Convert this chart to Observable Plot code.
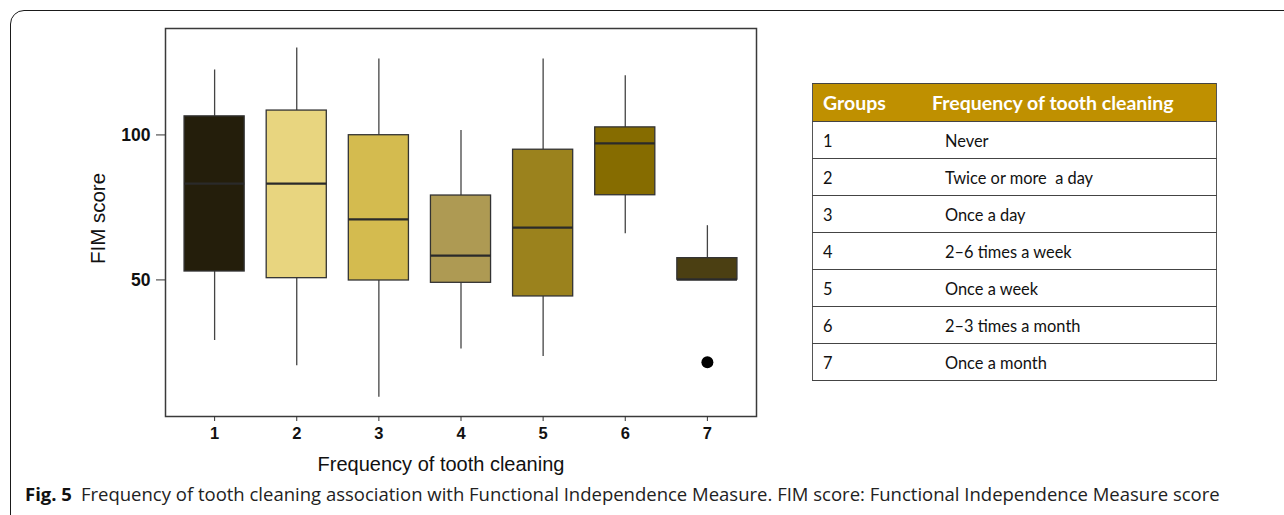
<!DOCTYPE html>
<html>
<head>
<meta charset="utf-8">
<script src="https://cdn.jsdelivr.net/npm/d3@7"></script>
<script src="https://cdn.jsdelivr.net/npm/@observablehq/plot@0.6"></script>
<style>
  html, body { margin: 0; padding: 0; background: #fff; }
  body { width: 1284px; height: 515px; overflow: hidden; position: relative; }
  #border { position: absolute; left: 10px; top: 10px; width: 1320px; height: 520px;
            border: 1.5px solid #1a1a1a; border-radius: 14px; box-sizing: border-box; }
  #chart { position: absolute; left: 0; top: 0; }
  #legend { position: absolute; left: 812px; top: 83px; width: 405px; border-collapse: collapse;
            font-family: Lato, "Open Sans", sans-serif; color: #111; }
  #legend th { background: #bf9000; color: #fff; font-weight: bold; font-size: 19.5px; text-align: left;
               height: 37px; padding: 0; border-top: 1.5px solid #444; border-bottom: 1.5px solid #444; }
  #legend td { height: 36px; padding: 0; font-size: 16.4px; border-bottom: 1.5px solid #444; white-space: pre; }
  #legend th:first-child, #legend td:first-child { padding-left: 10px; width: 109px; border-left: 1.5px solid #555; }
  #legend th:last-child, #legend td:last-child { border-right: 1.5px solid #555; }
  #legend td:last-child { padding-left: 13px; }
  #caption { position: absolute; left: 25px; top: 481px; font-family: "Open Sans", sans-serif;
             font-size: 18.5px; color: #222; white-space: nowrap; }
  #caption b { font-weight: bold; color: #111; margin-right: 9px; }
</style>
</head>
<body>
<div id="border"></div>
<div id="chart"></div>
<table id="legend"></table>
<div id="caption"></div>
<script>
// ---- data ----
const groups = ["1", "2", "3", "4", "5", "6", "7"];
const whiskerLow  = [29.1, 20.4,  9.5, 26.2, 23.6, 65.9, 50.1];
const quartile1   = [52.9, 50.6, 49.8, 49.0, 44.3, 79.2, 50.1];
const medians     = [83.2, 83.2, 70.9, 58.4, 68.0, 97.1, 50.1];
const quartile3   = [106.4, 108.4, 99.9, 79.1, 94.9, 102.6, 57.5];
const whiskerHigh = [122.4, 130.0, 126.2, 101.5, 126.2, 120.4, 68.7];
const outlierGroups = ["7"];
const outlierValues = [21.6];
const boxColors = ["#241e0b", "#e8d57f", "#d4bb4f", "#ae9a53", "#9b821d", "#866c00", "#4b3f12"];
const yTicks = [50, 100];
const yDomain = [2.9, 136.7];
const xTitle = "Frequency of tooth cleaning";
const yTitle = "FIM score";
const legendHeader = ["Groups", "Frequency of tooth cleaning"];
const legendLabels = ["Never", "Twice or more  a day", "Once a day", "2\u20136 times a week",
                      "Once a week", "2\u20133 times a month", "Once a month"];
const captionBold = "Fig. 5";
const captionText = "Frequency of tooth cleaning association with Functional Independence Measure. FIM score: Functional Independence Measure score";

const boxes = groups.map((g, i) => ({
  g, lo: whiskerLow[i], q1: quartile1[i], med: medians[i], q3: quartile3[i], hi: whiskerHigh[i]
}));
const outliers = outlierGroups.map((g, i) => ({g, v: outlierValues[i]}));

const chart = Plot.plot({
  width: 780,
  height: 480,
  marginLeft: 165,
  marginTop: 28,
  marginRight: 24,
  marginBottom: 64,
  style: {fontFamily: "'Liberation Sans', Arial, sans-serif", fontSize: "17px", color: "#111", background: "transparent"},
  x: {type: "band", domain: groups, paddingInner: 0.268, paddingOuter: 0.232, round: false, label: null},
  y: {domain: yDomain, label: null},
  color: {domain: groups, range: boxColors},
  marks: [
    Plot.ruleX(boxes, {x: "g", y1: "lo", y2: "q1", stroke: "#444", strokeWidth: 1.3}),
    Plot.ruleX(boxes, {x: "g", y1: "q3", y2: "hi", stroke: "#444", strokeWidth: 1.3}),
    Plot.barY(boxes, {x: "g", y1: "q1", y2: "q3", fill: "g", stroke: "#333", strokeWidth: 1.3}),
    Plot.tickY(boxes, {x: "g", y: "med", stroke: "#2a2a2a", strokeWidth: 2.2}),
    Plot.dot(outliers, {x: "g", y: "v", r: 6, fill: "#000", stroke: "none"}),
    Plot.frame({stroke: "#3a3a3a", strokeWidth: 1.5}),
    Plot.axisY({ticks: yTicks, tickSize: 9, tickPadding: 6, fontWeight: "bold", fontSize: 17.5, tickFormat: d => String(d), stroke: "#333"}),
    Plot.axisX({tickSize: 5, tickPadding: 6, fontWeight: "bold", fontSize: 16.5, stroke: "#333"}),
    Plot.text([xTitle], {text: d => d, frameAnchor: "bottom", textAnchor: "middle", dx: -20, dy: 54, lineAnchor: "bottom", fontSize: 20, fill: "#111"}),
    Plot.text([yTitle], {text: d => d, frameAnchor: "left", textAnchor: "middle", rotate: -90, dx: -61, dy: -4, lineAnchor: "bottom", fontSize: 20.5, fill: "#111"})
  ]
});
document.getElementById("chart").appendChild(chart);

// legend table
const table = document.getElementById("legend");
const head = table.insertRow();
legendHeader.forEach(h => { const th = document.createElement("th"); th.textContent = h; head.appendChild(th); });
groups.forEach((g, i) => {
  const r = table.insertRow();
  r.insertCell().textContent = g;
  r.insertCell().textContent = legendLabels[i];
});

// caption
const cap = document.getElementById("caption");
const b = document.createElement("b"); b.textContent = captionBold;
cap.appendChild(b);
cap.appendChild(document.createTextNode(captionText));
</script>
</body>
</html>
